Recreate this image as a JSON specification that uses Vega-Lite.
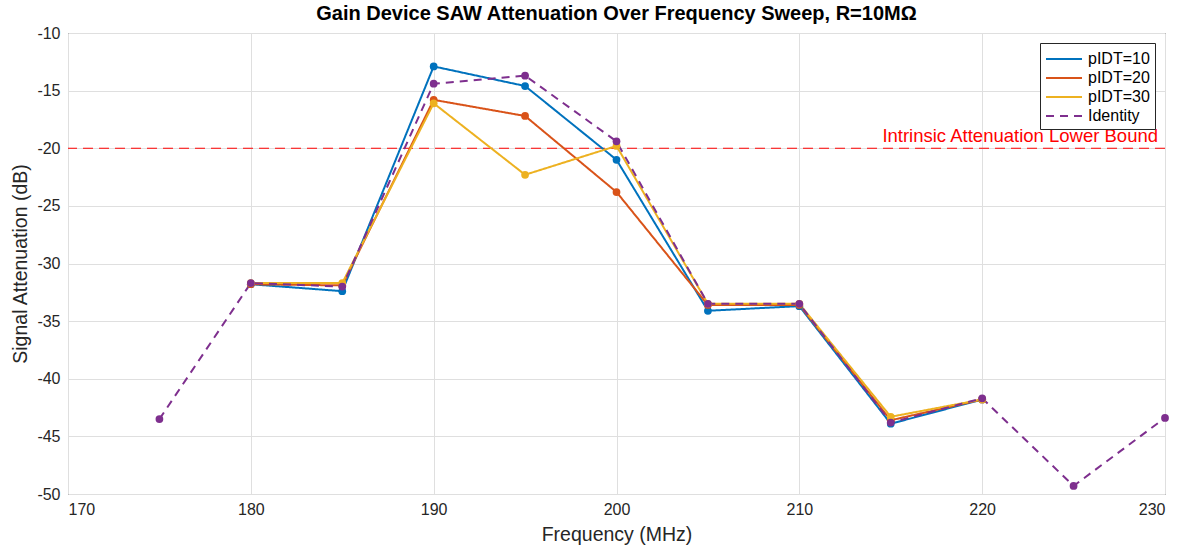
{
  "$schema": "https://vega.github.io/schema/vega-lite/v6.json",
  "width": 1097,
  "height": 461,
  "autosize": {"type": "none"},
  "padding": {"left": 68, "top": 33, "right": 20, "bottom": 56},
  "config": {
    "font": "Liberation Sans",
    "view": {"stroke": "#262626", "strokeWidth": 1},
    "axis": {
      "domain": false,
      "ticks": false,
      "gridColor": "#dfdfdf",
      "gridWidth": 1,
      "labelFont": "Liberation Sans",
      "labelFontSize": 16,
      "labelColor": "#262626",
      "titleFont": "Liberation Sans",
      "titleFontSize": 19.5,
      "titleFontWeight": "normal",
      "titleColor": "#262626",
      "labelExpr": "replace(datum.label, '−', '-')"
    }
  },
  "title": {
    "text": "Gain Device SAW Attenuation Over Frequency Sweep, R=10MΩ",
    "font": "Liberation Sans",
    "fontSize": 20,
    "fontWeight": "bold",
    "color": "#000000",
    "offset": 1
  },
  "datasets": {
    "series": [
      {"series": "pIDT=10", "f": 180, "att": -31.8},
      {"series": "pIDT=10", "f": 185, "att": -32.4},
      {"series": "pIDT=10", "f": 190, "att": -12.9},
      {"series": "pIDT=10", "f": 195, "att": -14.6},
      {"series": "pIDT=10", "f": 200, "att": -21.0},
      {"series": "pIDT=10", "f": 205, "att": -34.1},
      {"series": "pIDT=10", "f": 210, "att": -33.7},
      {"series": "pIDT=10", "f": 215, "att": -43.9},
      {"series": "pIDT=10", "f": 220, "att": -41.8},
      {"series": "pIDT=20", "f": 180, "att": -31.8},
      {"series": "pIDT=20", "f": 185, "att": -31.9},
      {"series": "pIDT=20", "f": 190, "att": -15.8},
      {"series": "pIDT=20", "f": 195, "att": -17.2},
      {"series": "pIDT=20", "f": 200, "att": -23.8},
      {"series": "pIDT=20", "f": 205, "att": -33.6},
      {"series": "pIDT=20", "f": 210, "att": -33.6},
      {"series": "pIDT=20", "f": 215, "att": -43.6},
      {"series": "pIDT=20", "f": 220, "att": -41.8},
      {"series": "pIDT=30", "f": 180, "att": -31.7},
      {"series": "pIDT=30", "f": 185, "att": -31.7},
      {"series": "pIDT=30", "f": 190, "att": -16.1},
      {"series": "pIDT=30", "f": 195, "att": -22.3},
      {"series": "pIDT=30", "f": 200, "att": -19.8},
      {"series": "pIDT=30", "f": 205, "att": -33.5},
      {"series": "pIDT=30", "f": 210, "att": -33.5},
      {"series": "pIDT=30", "f": 215, "att": -43.3},
      {"series": "pIDT=30", "f": 220, "att": -41.8},
      {"series": "Identity", "f": 175, "att": -43.5},
      {"series": "Identity", "f": 180, "att": -31.7},
      {"series": "Identity", "f": 185, "att": -32.0},
      {"series": "Identity", "f": 190, "att": -14.4},
      {"series": "Identity", "f": 195, "att": -13.7},
      {"series": "Identity", "f": 200, "att": -19.4},
      {"series": "Identity", "f": 205, "att": -33.5},
      {"series": "Identity", "f": 210, "att": -33.5},
      {"series": "Identity", "f": 215, "att": -43.8},
      {"series": "Identity", "f": 220, "att": -41.7},
      {"series": "Identity", "f": 225, "att": -49.3},
      {"series": "Identity", "f": 230, "att": -43.4}
    ],
    "bound": [
      {"y": -20, "x": 230, "label": "Intrinsic Attenuation Lower Bound"}
    ]
  },
  "layer": [
    {
      "data": {"name": "bound"},
      "mark": {"type": "rule", "color": "#FF0000", "strokeWidth": 1, "strokeDash": [10, 6]},
      "encoding": {
        "y": {"field": "y", "type": "quantitative", "scale": {"domain": [-50, -10]}}
      }
    },
    {
      "data": {"name": "bound"},
      "mark": {"type": "text", "color": "#FF0000", "fontSize": 18.5, "align": "right", "baseline": "alphabetic", "dx": -7, "dy": -6, "font": "Liberation Sans"},
      "encoding": {
        "x": {"field": "x", "type": "quantitative", "scale": {"domain": [170, 230]}},
        "y": {"field": "y", "type": "quantitative"},
        "text": {"field": "label"}
      }
    },
    {
      "data": {"name": "series"},
      "mark": {"type": "line", "strokeWidth": 2, "point": {"filled": true, "size": 60}},
      "encoding": {
        "x": {
          "field": "f", "type": "quantitative",
          "scale": {"domain": [170, 230], "nice": false, "zero": false},
          "axis": {"values": [170, 180, 190, 200, 210, 220, 230], "title": "Frequency (MHz)", "labelPadding": 7, "titlePadding": 8}
        },
        "y": {
          "field": "att", "type": "quantitative",
          "scale": {"domain": [-50, -10], "nice": false, "zero": false},
          "axis": {"values": [-50, -45, -40, -35, -30, -25, -20, -15, -10], "title": "Signal Attenuation (dB)", "labelPadding": 8, "titlePadding": 6}
        },
        "color": {
          "field": "series", "type": "nominal",
          "scale": {"domain": ["pIDT=10", "pIDT=20", "pIDT=30", "Identity"], "range": ["#0072BD", "#D95319", "#EDB120", "#7E2F8E"]},
          "legend": {
            "title": null,
            "orient": "top-right",
            "offset": 10,
            "fillColor": "#FFFFFF",
            "strokeColor": "#262626",
            "padding": 5,
            "labelFontSize": 16,
            "labelFont": "Liberation Sans",
            "labelColor": "#000000",
            "labelOffset": 21,
            "symbolType": "M-1,0H2.6",
            "symbolSize": 400,
            "symbolStrokeWidth": 2,
            "rowPadding": 0
          }
        },
        "strokeDash": {
          "field": "series", "type": "nominal",
          "scale": {"domain": ["pIDT=10", "pIDT=20", "pIDT=30", "Identity"], "range": [[1, 0], [1, 0], [1, 0], [8, 6]]},
          "legend": null
        },
        "order": {"field": "f", "type": "quantitative"}
      }
    }
  ]
}
